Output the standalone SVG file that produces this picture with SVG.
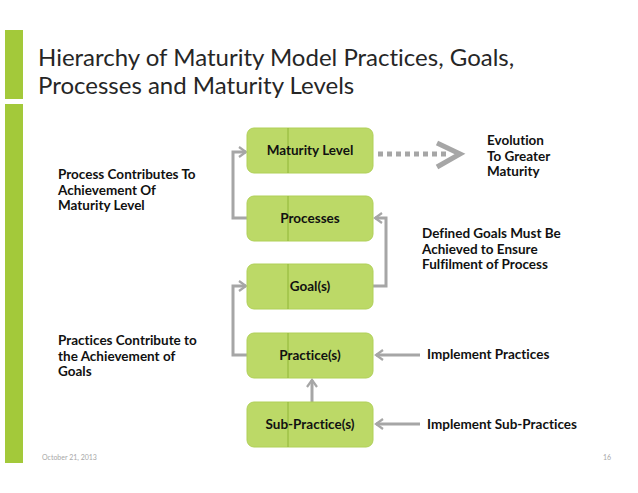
<svg xmlns="http://www.w3.org/2000/svg" width="638" height="493" viewBox="0 0 638 493">
<defs>
<style>
text{font-variant-ligatures:none;font-feature-settings:"liga" 0,"dlig" 0}
.box{fill:#bcd967;stroke:#b0d058;stroke-width:1}
.div{stroke:#86ad2c;stroke-width:0.8}
.lbl{font-family:Lato,"Open Sans","Liberation Sans",sans-serif;font-weight:bold;font-size:13.5px;fill:#111;text-anchor:middle}
.note{font-family:Lato,"Open Sans","Liberation Sans",sans-serif;font-weight:bold;font-size:13.5px;fill:#111}
.con{fill:none;stroke:#a6a6a6;stroke-width:3}
.title{font-family:Lato,"Open Sans","Liberation Sans",sans-serif;font-size:24px;fill:#262626}
.foot{font-family:Lato,"Liberation Sans",sans-serif;font-size:7px;fill:#a8a8a8}
</style>
<marker id="arr" viewBox="0 0 12 12" refX="10" refY="6" markerWidth="12" markerHeight="12" markerUnits="userSpaceOnUse" orient="auto">
<path d="M3,1 L10,6 L3,11" fill="none" stroke="#a6a6a6" stroke-width="2.2"/>
</marker>
</defs>
<rect width="638" height="493" fill="#ffffff"/>
<rect x="5" y="30" width="18" height="69" fill="#a3c93a"/>
<rect x="5" y="104" width="18" height="359" fill="#a3c93a"/>
<text class="title" x="38" y="66">Hierarchy of Maturity Model Practices, Goals,</text>
<text class="title" x="38" y="94">Processes and Maturity Levels</text>

<g id="connectors">
<path class="con" d="M247,218 H233 V152 H246" marker-end="url(#arr)"/>
<path class="con" d="M373,286 H386 V218 H375" marker-end="url(#arr)"/>
<path class="con" d="M247,355 H233 V286 H246" marker-end="url(#arr)"/>
<path class="con" d="M312,402 V380" marker-end="url(#arr)"/>
<path class="con" d="M420,355 H376" marker-end="url(#arr)"/>
<path class="con" d="M420,424 H376" marker-end="url(#arr)"/>
<path d="M378,154 H446" fill="none" stroke="#a6a6a6" stroke-width="5" stroke-dasharray="5,4"/>
<path d="M437,143 L460,154 L437,167" fill="none" stroke="#a6a6a6" stroke-width="5" stroke-linejoin="miter"/>
</g>

<g id="n-maturity">
<rect class="box" x="247" y="128" width="126" height="45" rx="7"/>
<line class="div" x1="288" y1="128" x2="288" y2="173"/>
<text class="lbl" x="310" y="155">Maturity Level</text>
</g>
<g id="n-processes">
<rect class="box" x="247" y="196" width="126" height="45" rx="7"/>
<line class="div" x1="288" y1="196" x2="288" y2="241"/>
<text class="lbl" x="310" y="223">Processes</text>
</g>
<g id="n-goals">
<rect class="box" x="247" y="264" width="126" height="45" rx="7"/>
<line class="div" x1="288" y1="264" x2="288" y2="309"/>
<text class="lbl" x="310" y="291">Goal(s)</text>
</g>
<g id="n-practices">
<rect class="box" x="247" y="333" width="126" height="45" rx="7"/>
<line class="div" x1="288" y1="333" x2="288" y2="378"/>
<text class="lbl" x="310" y="360">Practice(s)</text>
</g>
<g id="n-subpractices">
<rect class="box" x="247" y="402" width="126" height="45" rx="7"/>
<line class="div" x1="288" y1="402" x2="288" y2="447"/>
<text class="lbl" x="310" y="429">Sub-Practice(s)</text>
</g>

<g id="notes">
<text class="note" x="58" y="179">Process Contributes To</text>
<text class="note" x="58" y="195">Achievement Of</text>
<text class="note" x="58" y="210">Maturity Level</text>
<text class="note" x="58" y="345">Practices Contribute to</text>
<text class="note" x="58" y="361">the Achievement of</text>
<text class="note" x="58" y="376">Goals</text>
<text class="note" x="487" y="145">Evolution</text>
<text class="note" x="487" y="161">To Greater</text>
<text class="note" x="487" y="176">Maturity</text>
<text class="note" x="422" y="238">Defined Goals Must Be</text>
<text class="note" x="422" y="254">Achieved to Ensure</text>
<text class="note" x="422" y="269">Fulfilment of Process</text>
<text class="note" x="427" y="359">Implement Practices</text>
<text class="note" x="427" y="429">Implement Sub-Practices</text>
</g>

<text class="foot" x="42" y="460">October 21, 2013</text>
<text class="foot" x="603" y="460">16</text>
</svg>
